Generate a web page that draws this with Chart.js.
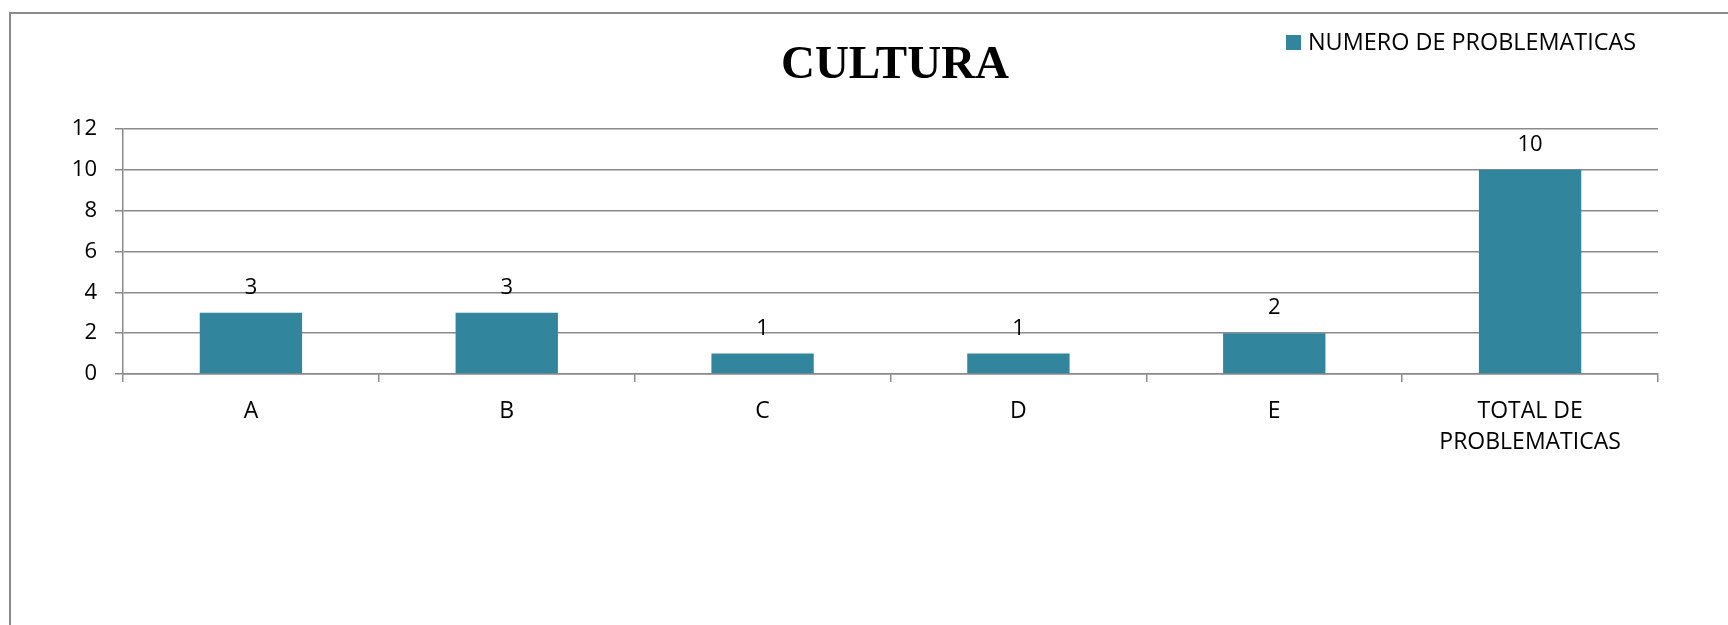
<!DOCTYPE html>
<html>
<head>
<meta charset="utf-8">
<title>CULTURA</title>
<script src="https://cdn.jsdelivr.net/npm/chart.js@4.4.1/dist/chart.umd.min.js"></script>
<style>
  html, body { margin:0; padding:0; background:#fff; overflow:hidden; }
  #frame { position:absolute; left:9px; top:12px; width:1800px; height:700px; border-left:2px solid #8a8a8a; border-top:2px solid #8a8a8a; }
  #wrap { position:absolute; left:0; top:0; width:1728px; height:625px; }
</style>
</head>
<body>
<div id="frame"></div>
<div id="wrap"><canvas id="chart" width="1728" height="625"></canvas></div>
<script>
// chart data
const TITLE = 'CULTURA';
const SERIES_LABEL = 'NUMERO DE PROBLEMATICAS';
const CATEGORIES = ['A', 'B', 'C', 'D', 'E', ['TOTAL DE', 'PROBLEMATICAS']];
const VALUES = [3, 3, 1, 1, 2, 10];
const Y_MIN = 0, Y_MAX = 12, Y_STEP = 2;

const BAR_COLOR = '#31859C';
const GRID = '#8a8a8a';
const FONT = "'Open Sans', 'DejaVu Sans', sans-serif";

Chart.defaults.font.family = FONT;
Chart.defaults.color = '#000';

// title + legend drawn in fixed spots (they overlap vertically in the original)
const headerPlugin = {
  id: 'header',
  afterDraw(chart){
    const ctx = chart.ctx;
    ctx.save();
    ctx.fillStyle = '#000';
    ctx.font = "bold 47px 'Liberation Serif', 'Times New Roman', serif";
    ctx.textAlign = 'center';
    ctx.textBaseline = 'middle';
    ctx.fillText(TITLE, 895, 66);

    const ds = chart.data.datasets[0];
    ctx.fillStyle = ds.backgroundColor;
    ctx.fillRect(1286, 35, 15, 15);
    ctx.fillStyle = '#000';
    ctx.font = `23.4px ${FONT}`;
    ctx.textAlign = 'left';
    ctx.fillText(ds.label, 1308, 43);
    ctx.restore();
  }
};

// value labels above bars
const valueLabels = {
  id: 'valueLabels',
  afterDatasetsDraw(chart){
    const ctx = chart.ctx;
    ctx.save();
    ctx.font = `22px ${FONT}`;
    ctx.fillStyle = '#000';
    ctx.textAlign = 'center';
    ctx.textBaseline = 'middle';
    chart.data.datasets.forEach((ds, i) => {
      chart.getDatasetMeta(i).data.forEach((bar, j) => {
        ctx.fillText(String(ds.data[j]), bar.x, bar.y - 25);
      });
    });
    ctx.restore();
  }
};

new Chart(document.getElementById('chart'), {
  type: 'bar',
  data: {
    labels: CATEGORIES,
    datasets: [{
      label: SERIES_LABEL,
      data: VALUES,
      backgroundColor: BAR_COLOR,
      borderWidth: 0,
      barPercentage: 1,
      categoryPercentage: 0.4
    }]
  },
  options: {
    responsive: false,
    animation: false,
    layout: { padding: { left: 0, right: 70, top: 129, bottom: 151 } },
    plugins: {
      legend: { display: false },
      title: { display: false },
      tooltip: { enabled: false }
    },
    scales: {
      x: {
        afterFit: s => { s.height = 100; },
        grid: { display: true, drawOnChartArea: false, drawTicks: true, tickLength: 8, color: GRID, lineWidth: 1.5 },
        border: { display: true, color: GRID, width: 1.5 },
        ticks: { autoSkip: false, maxRotation: 0, padding: 14, font: { size: 23, lineHeight: 1.36 }, color: '#000' }
      },
      y: {
        min: Y_MIN, max: Y_MAX,
        afterFit: s => { s.width = 123; },
        grid: { color: GRID, lineWidth: 1.5, tickLength: 8 },
        border: { display: true, color: GRID, width: 1.5 },
        ticks: { stepSize: Y_STEP, padding: 18, font: { size: 22 }, color: '#000' }
      }
    }
  },
  plugins: [headerPlugin, valueLabels]
});
</script>
</body>
</html>
